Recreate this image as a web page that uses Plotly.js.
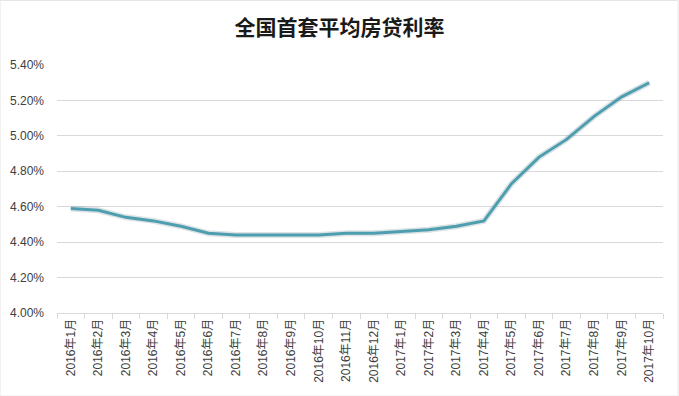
<!DOCTYPE html>
<html><head><meta charset="utf-8">
<script src="https://cdn.plot.ly/plotly-3.0.1.min.js"></script>
<style>html,body{margin:0;padding:0;background:#fff;}#chart{width:679px;height:396px;}</style>
</head><body><div id="chart"></div>
<script>
const months = ["2016年1月","2016年2月","2016年3月","2016年4月","2016年5月","2016年6月","2016年7月","2016年8月","2016年9月","2016年10月","2016年11月","2016年12月","2017年1月","2017年2月","2017年3月","2017年4月","2017年5月","2017年6月","2017年7月","2017年8月","2017年9月","2017年10月"];
const rates = [4.59,4.58,4.54,4.52,4.49,4.45,4.44,4.44,4.44,4.44,4.45,4.45,4.46,4.47,4.49,4.52,4.73,4.88,4.98,5.11,5.22,5.30];
const yTicks = [4.0,4.2,4.4,4.6,4.8,5.0,5.2,5.4];
const titleText = "全国首套平均房贷利率";

const font = "Liberation Sans, Arial, Noto Sans CJK SC, sans-serif";
const traces = [
  {x: months, y: rates, type: "scatter", mode: "lines", hoverinfo: "skip",
   line: {color: "rgba(120,140,150,0.25)", width: 6}, showlegend: false},
  {x: months, y: rates, type: "scatter", mode: "lines",
   line: {color: "#4d9fb0", width: 3}, showlegend: false}
];
const layout = {
  width: 679, height: 396,
  margin: {l: 57, r: 16, t: 65, b: 83},
  paper_bgcolor: "#ffffff", plot_bgcolor: "#ffffff",
  title: {text: "<b>" + titleText + "</b>", x: 0.5, xanchor: "center", y: 0.93, yanchor: "middle",
          font: {family: "Noto Sans CJK SC, sans-serif", size: 21, color: "#1a1a1a"}},
  xaxis: {type: "category", range: [-0.5, months.length - 0.5], tickangle: -90, tickson: "boundaries",
          ticks: "outside", ticklen: 5,
          tickcolor: "#d9d9d9", showgrid: false, showline: true, linecolor: "#d9d9d9", linewidth: 1,
          tickfont: {family: font, size: 12, color: "#404040"}, fixedrange: true},
  yaxis: {range: [4.0, 5.4], tickvals: yTicks, ticktext: yTicks.map(v => v.toFixed(2) + "%"),
          showgrid: true, gridcolor: "#d9d9d9", gridwidth: 1, zeroline: false, showline: false,
          ticklabelstandoff: 12,
          tickfont: {family: font, size: 12, color: "#404040"}, fixedrange: true},
  shapes: [{type: "rect", xref: "paper", yref: "paper", x0: -0.094, x1: 1.025, y0: -0.335, y1: 1.26,
            line: {color: "#e6e6e6", width: 1}}]
};
Plotly.newPlot("chart", traces, layout, {displayModeBar: false, staticPlot: true});
</script></body></html>
